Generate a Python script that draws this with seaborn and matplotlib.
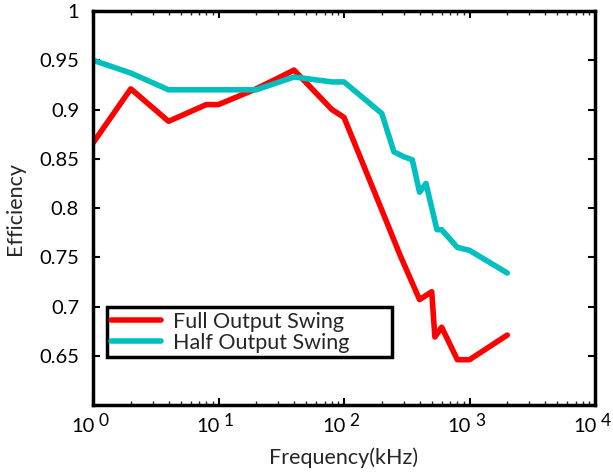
import matplotlib
matplotlib.use("Agg")
import matplotlib.pyplot as plt
import matplotlib.ticker as mticker
import seaborn as sns
import pandas as pd
import numpy as np

# Data
full_freq = [1, 2, 4, 8, 10, 20, 40, 80, 100, 200, 280, 400, 500, 530, 600, 800, 1000, 2000]
full_eff = [0.866, 0.921, 0.888, 0.905, 0.905, 0.921, 0.940, 0.900, 0.892, 0.798, 0.752,
            0.707, 0.715, 0.669, 0.679, 0.646, 0.646, 0.671]
half_freq = [1, 2, 4, 20, 40, 80, 100, 200, 250, 300, 350, 400, 450, 550, 600, 800, 1000, 2000]
half_eff = [0.950, 0.937, 0.920, 0.920, 0.933, 0.928, 0.928, 0.896, 0.857, 0.852, 0.849,
            0.816, 0.825, 0.778, 0.778, 0.760, 0.757, 0.734]
series_names = ["Full Output Swing", "Half Output Swing"]
colors = ["#FF0000", "#00BFBF"]
y_ticks = [0.65, 0.7, 0.75, 0.8, 0.85, 0.9, 0.95, 1]
y_tick_labels = ["0.65", "0.7", "0.75", "0.8", "0.85", "0.9", "0.95", "1"]
x_ticks = [1, 10, 100, 1000, 10000]
x_exps = ["0", "1", "2", "3", "4"]

df = pd.concat([
    pd.DataFrame({"freq": full_freq, "eff": full_eff, "series": series_names[0]}),
    pd.DataFrame({"freq": half_freq, "eff": half_eff, "series": series_names[1]}),
])

sns.set_style("white")
plt.rcParams["font.family"] = ["Lato", "DejaVu Sans"]

fig = plt.figure(figsize=(6.13, 4.73), dpi=100)
ax = fig.add_axes([93/613, 1-405/473, (595-93)/613, (405-11)/473])

sns.lineplot(data=df, x="freq", y="eff", hue="series", palette=colors,
             hue_order=series_names, estimator=None, sort=False, linewidth=4,
             ax=ax)

ax.set_xscale("log")
ax.set_xlim(1, 10000)
ax.set_ylim(0.6, 1.0)
ax.set_yticks(y_ticks)
ax.set_yticklabels(y_tick_labels)
ax.set_xticks(x_ticks)
ax.set_xticklabels([])
ax.xaxis.set_minor_locator(mticker.LogLocator(base=10, subs=np.arange(2, 10), numticks=20))
ax.xaxis.set_minor_formatter(mticker.NullFormatter())

# x tick labels drawn as "10" plus a raised exponent
trans = ax.get_xaxis_transform()
for t, e in zip(x_ticks, x_exps):
    ax.annotate("10", xy=(t, 0), xycoords=trans, xytext=(1, -9), textcoords="offset points",
                ha="right", va="top", fontsize=14.5, color="black", annotation_clip=False)
    ax.annotate(e, xy=(t, 0), xycoords=trans, xytext=(4, -6), textcoords="offset points",
                ha="left", va="top", fontsize=12.5, color="black", annotation_clip=False)

for s in ax.spines.values():
    s.set_linewidth(2.5)
    s.set_color("black")

ax.tick_params(axis="both", which="major", direction="in", length=5, width=1.5,
               labelsize=14.5, colors="black", top=True, right=True, bottom=True, left=True)
ax.tick_params(axis="x", which="minor", direction="in", length=3, width=1,
               top=True, bottom=True)
ax.tick_params(axis="y", which="major", pad=10)

ax.set_xlabel("Frequency(kHz)", fontsize=15.5, labelpad=27)
ax.set_ylabel("Efficiency", fontsize=15.5, labelpad=10)

leg = ax.legend(loc="lower left", bbox_to_anchor=(0.028, 0.122, 0.568, 0.127),
                mode="expand", borderaxespad=0, framealpha=1,
                frameon=True, fancybox=False, fontsize=15.5, handlelength=2.3,
                borderpad=0.2, labelspacing=0.05, handletextpad=0.55)
leg.get_frame().set_edgecolor("black")
leg.get_frame().set_linewidth(2.5)
for line in leg.get_lines():
    line.set_linewidth(4)

fig.savefig("out.png", dpi=100)
